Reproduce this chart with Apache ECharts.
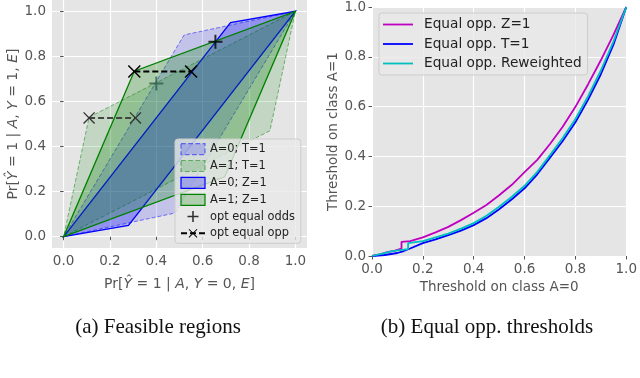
<!DOCTYPE html>
<html>
<head>
<meta charset="utf-8">
<script src="https://cdn.jsdelivr.net/npm/echarts@6/dist/echarts.min.js"></script>
<style>
html,body{margin:0;padding:0;background:#fff;}
#chart{width:640px;height:378px;}
</style>
</head>
<body>
<div id="chart"></div>
<script>
// (a) feasible regions, vertices as [Pr(Yhat=1|Y=0), Pr(Yhat=1|Y=1)]
const regionA0T = [[0,0],[0.48,0.105],[1,1],[0.52,0.895]];
const regionA1T = [[0,0],[0.89,0.47],[1,1],[0.11,0.53]];
const regionA0Z = [[0,0],[0.28,0.05],[1,1],[0.72,0.95]];
const regionA1Z = [[0,0],[0.695,0.266],[1,1],[0.305,0.734]];
const oddsZ = [[0.655,0.865]];
const oddsT = [[0.4,0.68]];
const oppZ = [[0.305,0.733],[0.55,0.733]];
const oppT = [[0.11,0.527],[0.31,0.527]];
const tickValues = [0,0.2,0.4,0.6,0.8,1.0];

// (b) threshold on class A=1 as a function of threshold on class A=0
const curveZ = [[0,0],[0.03,0.006],[0.06,0.016],[0.09,0.022],[0.116,0.03],[0.116,0.057],[0.15,0.06],[0.2,0.075],[0.25,0.095],[0.3,0.117],[0.35,0.144],[0.4,0.174],[0.45,0.205],[0.5,0.244],[0.55,0.286],[0.6,0.337],[0.65,0.386],[0.7,0.45],[0.75,0.519],[0.8,0.599],[0.85,0.69],[0.9,0.786],[0.95,0.889],[1.0,1.0]];
const curveT = [[0,0],[0.05,0.004],[0.1,0.012],[0.125,0.02],[0.15,0.03],[0.2,0.052],[0.25,0.067],[0.3,0.084],[0.35,0.102],[0.4,0.124],[0.45,0.152],[0.5,0.188],[0.55,0.228],[0.6,0.272],[0.65,0.328],[0.7,0.395],[0.75,0.462],[0.8,0.537],[0.85,0.628],[0.9,0.73],[0.95,0.85],[1.0,1.0]];
const curveRw = [[0,0],[0.04,0.01],[0.08,0.02],[0.142,0.028],[0.142,0.052],[0.2,0.06],[0.25,0.075],[0.3,0.09],[0.35,0.11],[0.4,0.132],[0.45,0.162],[0.5,0.198],[0.55,0.238],[0.6,0.282],[0.65,0.338],[0.7,0.405],[0.75,0.474],[0.8,0.55],[0.85,0.642],[0.9,0.745],[0.95,0.862],[1.0,1.0]];

const FONT = 'DejaVu Sans';
const GREY = '#555555';
const PLUS = 'path://M43,0 L57,0 L57,43 L100,43 L100,57 L57,57 L57,100 L43,100 L43,57 L0,57 L0,43 L43,43 Z';
const CROSS = 'path://M0,8 L8,0 L100,92 L92,100 Z M92,0 L100,8 L8,100 L0,92 Z';
const BAR = 'path://M0,0 L100,0 L100,6 L0,6 Z';

function regionSeries(name, verts, fill, stroke, dashed, width) {
    return {
        type: 'custom',
        name: name,
        xAxisIndex: 0,
        yAxisIndex: 0,
        data: verts,
        itemStyle: {color: fill},
        renderItem(params, api) {
            if (params.dataIndex !== 0) return;
            const pts = verts.map(v => api.coord(v));
            return {
                type: 'polygon',
                shape: {points: pts},
                style: {fill: fill, stroke: stroke, lineWidth: width, lineDash: dashed ? [4, 2] : null}
            };
        }
    };
}

function valueAxis(idx, isX, min, max, name, nameGap, rich) {
    const ax = {
        type: 'value',
        gridIndex: idx,
        min: min,
        max: max,
        splitNumber: 5,
        name: name,
        nameLocation: 'middle',
        nameGap: nameGap,
        nameTextStyle: {fontFamily: FONT, fontSize: rich ? 14 : 13.5, color: GREY, rich: rich},
        axisLine: {show: false},
        axisTick: {show: true, length: 3.5, lineStyle: {color: GREY, width: 1}, customValues: tickValues},
        axisLabel: {
            customValues: tickValues,
            margin: 6,
            fontFamily: FONT, fontSize: 13.5, color: GREY,
            formatter: v => v.toFixed(1)
        },
        splitLine: {show: true, lineStyle: {color: '#ffffff', width: 1.2}}
    };
    if (!isX) ax.nameRotate = 90;
    return ax;
}

const richName = {
    n: {fontFamily: FONT, fontSize: 14, color: GREY},
    i: {fontFamily: FONT, fontSize: 14, color: GREY, fontStyle: 'italic'}
};

const chart = echarts.init(document.getElementById('chart'), null, {renderer: 'canvas'});

const option = {
    animation: false,
    backgroundColor: '#ffffff',
    grid: [
        {left: 52, top: 0, width: 255, height: 248, show: true, backgroundColor: '#E5E5E5', borderWidth: 0},
        {left: 372, top: 6, width: 257.5, height: 250, show: true, backgroundColor: '#E5E5E5', borderWidth: 0}
    ],
    xAxis: [
        valueAxis(0, true, -0.05, 1.05, '{n|Pr[}{i|Ŷ}{n| = 1 | }{i|A}{n|, }{i|Y}{n| = 0, }{i|E}{n|]}', 29, richName),
        valueAxis(1, true, 0, 1, 'Threshold on class A=0', 23)
    ],
    yAxis: [
        valueAxis(0, false, -0.05, 1.05, '{n|Pr[}{i|Ŷ}{n| = 1 | }{i|A}{n|, }{i|Y}{n| = 1, }{i|E}{n|]}', 32, richName),
        valueAxis(1, false, 0, 1, 'Threshold on class A=1', 25.5)
    ],
    legend: [
        {
            orient: 'vertical',
            left: 175, top: 139,
            padding: [4, 6, 4, 5],
            itemGap: 4.7,
            itemWidth: 24, itemHeight: 11,
            backgroundColor: 'rgba(233,233,233,0.8)',
            borderColor: '#cccccc', borderWidth: 1, borderRadius: 3,
            textStyle: {fontFamily: FONT, fontSize: 11.4, lineHeight: 12, color: '#222'},
            data: [
                {name: 'A=0; T=1', icon: 'rect', itemStyle: {color: 'rgba(0,0,255,0.18)', borderColor: 'rgba(0,0,255,0.5)', borderWidth: 1.2, borderType: 'dashed'}},
                {name: 'A=1; T=1', icon: 'rect', itemStyle: {color: 'rgba(0,128,0,0.18)', borderColor: 'rgba(0,128,0,0.5)', borderWidth: 1.2, borderType: 'dashed'}},
                {name: 'A=0; Z=1', icon: 'rect', itemStyle: {color: 'rgba(0,0,255,0.25)', borderColor: '#0000ff', borderWidth: 1.2}},
                {name: 'A=1; Z=1', icon: 'rect', itemStyle: {color: 'rgba(0,128,0,0.25)', borderColor: '#008000', borderWidth: 1.2}},
                {name: 'opt equal odds', itemStyle: {color: '#000'}},
                {name: 'opt equal opp', itemStyle: {color: '#000'}, lineStyle: {color: '#000'}}
            ]
        },
        {
            orient: 'vertical',
            left: 379, top: 13,
            padding: [4, 6, 4, 4],
            itemGap: 4.5,
            itemWidth: 30, itemHeight: 14,
            backgroundColor: 'rgba(233,233,233,0.8)',
            borderColor: '#cccccc', borderWidth: 1, borderRadius: 3,
            textStyle: {fontFamily: FONT, fontSize: 13.7, lineHeight: 15, color: '#222', padding: [0, 0, 0, 6]},
            data: [
                {name: 'Equal opp. Z=1', icon: BAR},
                {name: 'Equal opp. T=1', icon: BAR},
                {name: 'Equal opp. Reweighted', icon: BAR}
            ]
        }
    ],
    graphic: [
        {type: 'text', x: 158, y: 327, style: {text: '(a) Feasible regions', font: '21px "Liberation Serif"', fill: '#111', align: 'center', verticalAlign: 'middle'}},
        {type: 'text', x: 487, y: 327, style: {text: '(b) Equal opp. thresholds', font: '21px "Liberation Serif"', fill: '#111', align: 'center', verticalAlign: 'middle'}}
    ],
    series: [
        regionSeries('A=0; T=1', regionA0T, 'rgba(0,0,255,0.15)', 'rgba(0,0,255,0.5)', true, 1),
        regionSeries('A=1; T=1', regionA1T, 'rgba(0,128,0,0.15)', 'rgba(0,128,0,0.5)', true, 1),
        regionSeries('A=0; Z=1', regionA0Z, 'rgba(0,0,255,0.25)', '#0000ff', false, 1.3),
        regionSeries('A=1; Z=1', regionA1Z, 'rgba(0,128,0,0.25)', '#008000', false, 1.3),
        {
            type: 'line', name: 'opt equal opp', xAxisIndex: 0, yAxisIndex: 0,
            data: oppT, symbol: CROSS, symbolSize: 12,
            itemStyle: {color: '#333'},
            lineStyle: {color: '#444', width: 2, type: [6, 3]}
        },
        {
            type: 'line', name: 'opt equal opp', xAxisIndex: 0, yAxisIndex: 0,
            data: oppZ, symbol: CROSS, symbolSize: 13,
            itemStyle: {color: '#000'},
            lineStyle: {color: '#000', width: 2, type: [6, 3]}
        },
        {
            type: 'scatter', name: 'opt equal odds', xAxisIndex: 0, yAxisIndex: 0,
            data: oddsT, symbol: PLUS, symbolSize: 14,
            itemStyle: {color: '#2f5e48'}
        },
        {
            type: 'scatter', name: 'opt equal odds', xAxisIndex: 0, yAxisIndex: 0,
            data: oddsZ, symbol: PLUS, symbolSize: 14,
            itemStyle: {color: '#000'}
        },
        {
            type: 'line', name: 'Equal opp. Z=1', xAxisIndex: 1, yAxisIndex: 1,
            data: curveZ, symbol: 'none', lineStyle: {color: '#bf00bf', width: 1.8}, itemStyle: {color: '#bf00bf'}
        },
        {
            type: 'line', name: 'Equal opp. T=1', xAxisIndex: 1, yAxisIndex: 1,
            data: curveT, symbol: 'none', lineStyle: {color: '#0000ff', width: 1.8}, itemStyle: {color: '#0000ff'}
        },
        {
            type: 'line', name: 'Equal opp. Reweighted', xAxisIndex: 1, yAxisIndex: 1,
            data: curveRw, symbol: 'none', lineStyle: {color: '#00bfbf', width: 1.8}, itemStyle: {color: '#00bfbf'}
        }
    ]
};

chart.setOption(option);
</script>
</body>
</html>
